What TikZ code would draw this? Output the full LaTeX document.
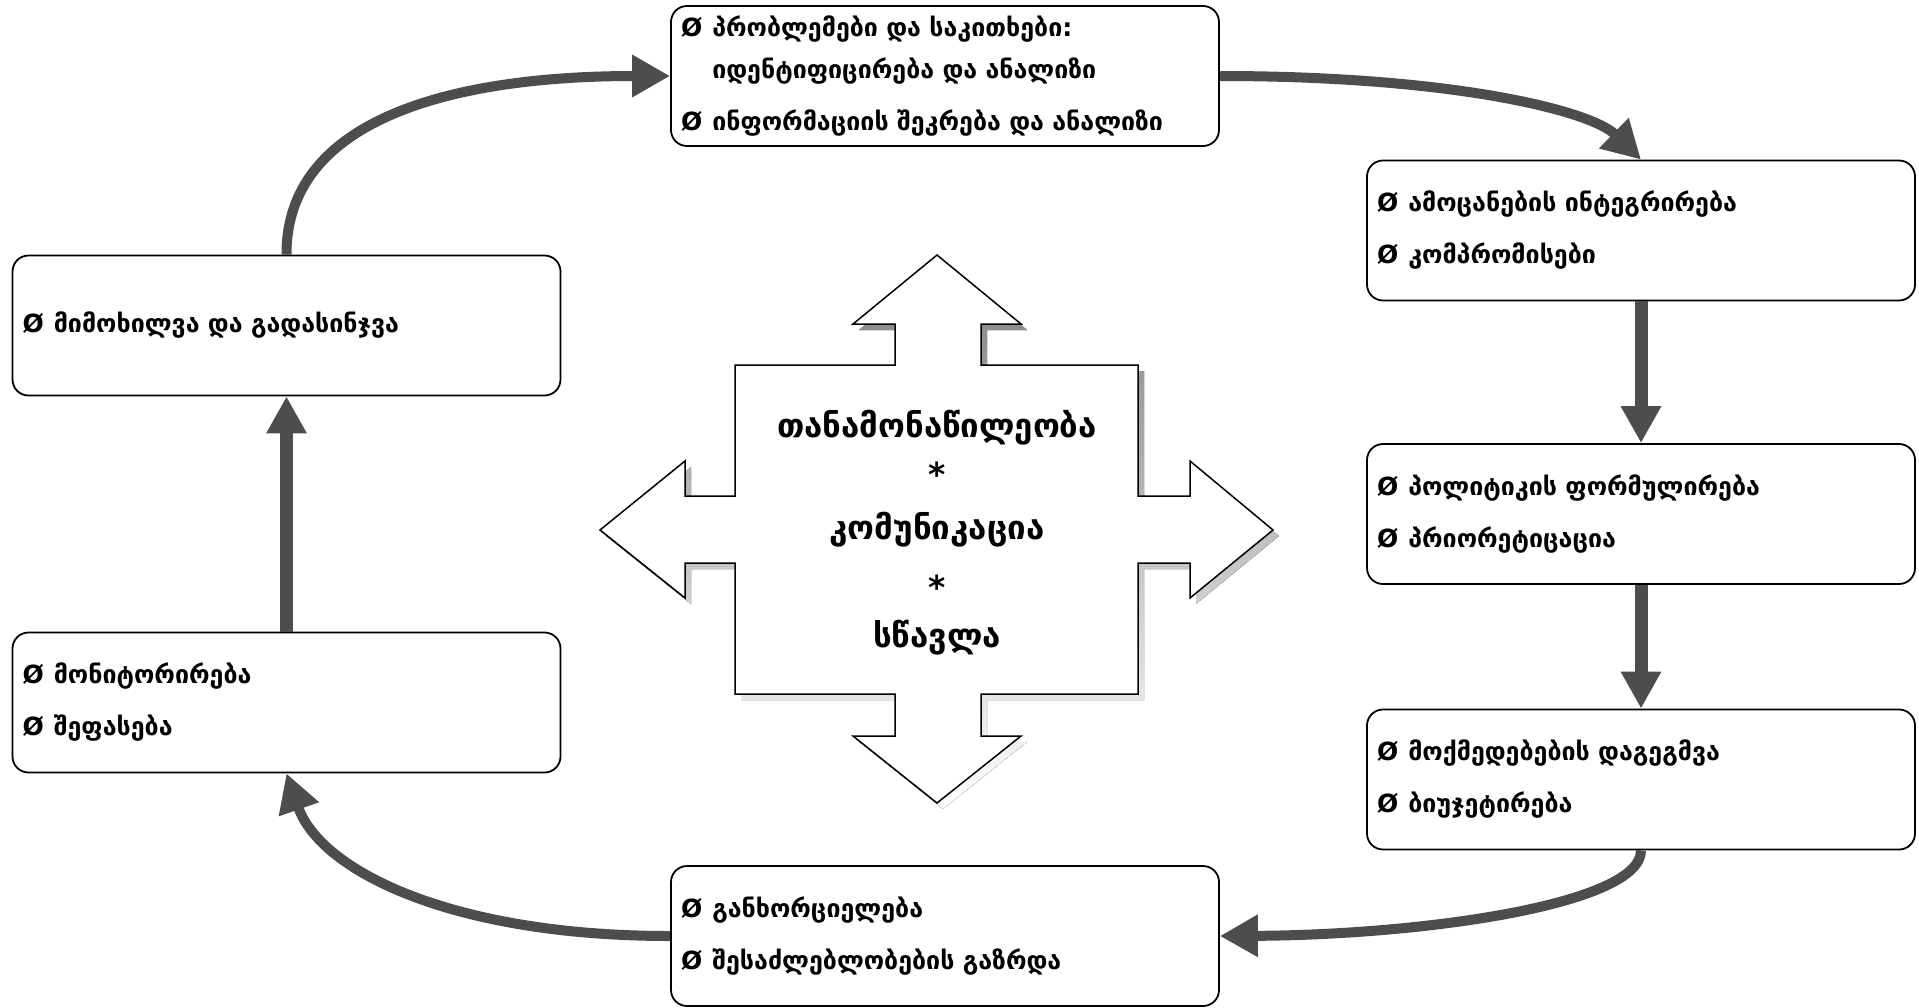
\documentclass[tikz,border=0pt]{standalone}
\usepackage{fontspec}
\setmainfont{DejaVu Sans}
\usetikzlibrary{arrows.meta,calc}
\definecolor{conn}{HTML}{4D4D4D}
\definecolor{shade}{HTML}{404040}
\newcommand\geotext{\fontsize{25}{52}\selectfont\bfseries}
\newcommand\coretext{\fontsize{33}{40}\selectfont\bfseries}
\newcommand\bul{Ø\hspace{10pt}}
\begin{document}
\begin{tikzpicture}[x=1pt,y=-1pt,
  stagebox/.style={draw=black, line width=1.8pt, rounded corners=16pt, fill=white,
    minimum width=548pt, minimum height=140pt, text width=528pt, inner xsep=10pt,
    inner ysep=0pt, align=left, font=\geotext},
  flow/.style={draw=conn, line width=10pt, -{Triangle[length=38pt,width=40pt]}},
  vflow/.style={draw=conn, line width=13pt, -{Triangle[length=37pt,width=38pt]}},
  coreline/.style={font=\coretext, inner sep=0pt}
]
\useasboundingbox[fill=white] (0,0) rectangle (1919,1007);

% central four-way arrow: shadow then shape
\begin{scope}[shift={(6,6)}]
\fill[shade] (937,255) -- (1021,324) -- (981,324) -- (981,365) -- (1138,365) -- (1138,496)
 -- (1190,496) -- (1190,461) -- (1273,530) -- (1190,598) -- (1190,563) -- (1138,563)
 -- (1138,694) -- (981,694) -- (981,736) -- (1021,736) -- (937,803) -- (853,736)
 -- (895,736) -- (895,694) -- (735,694) -- (735,563) -- (685,563) -- (685,598)
 -- (600,530) -- (685,461) -- (685,496) -- (735,496) -- (735,365) -- (895,365)
 -- (895,324) -- (853,324) -- cycle;
\end{scope}
\filldraw[fill=white, draw=black, line width=1.5pt, line join=miter]
    (937,255) -- (1021,324) -- (981,324) -- (981,365) -- (1138,365) -- (1138,496)
 -- (1190,496) -- (1190,461) -- (1273,530) -- (1190,598) -- (1190,563) -- (1138,563)
 -- (1138,694) -- (981,694) -- (981,736) -- (1021,736) -- (937,803) -- (853,736)
 -- (895,736) -- (895,694) -- (735,694) -- (735,563) -- (685,563) -- (685,598)
 -- (600,530) -- (685,461) -- (685,496) -- (735,496) -- (735,365) -- (895,365)
 -- (895,324) -- (853,324) -- cycle;

\node[coreline] (c1) at (937,428) {თანამონაწილეობა};
\node[coreline] (c2) at (937,474) {*};
\node[coreline] (c3) at (937,530) {კომუნიკაცია};
\node[coreline] (c4) at (937,587) {*};
\node[coreline] (c5) at (937,638) {სწავლა};

% stage boxes
\node[stagebox] (top) at (945,76) {\bul პრობლემები და საკითხები:\\[-10pt]
\phantom{\bul}იდენტიფიცირება და ანალიზი\\
\bul ინფორმაციის შეკრება და ანალიზი};
\node[stagebox] (r1) at (1641,230.5) {\bul ამოცანების ინტეგრირება\\ \bul კომპრომისები};
\node[stagebox] (r2) at (1641,514) {\bul პოლიტიკის ფორმულირება\\ \bul პრიორეტიცაცია};
\node[stagebox] (r3) at (1641,779.5) {\bul მოქმედებების დაგეგმვა\\ \bul ბიუჯეტირება};
\node[stagebox] (bot) at (945,936) {\bul განხორციელება\\ \bul შესაძლებლობების გაზრდა};
\node[stagebox] (lb) at (286.5,702.5) {\bul მონიტორირება\\ \bul შეფასება};
\node[stagebox] (lt) at (286.5,325.5) {\bul მიმოხილვა და გადასინჯვა};

% connectors
\draw[flow] (top.east) .. controls (1450,76) and (1590,110) .. (r1.north);
\draw[vflow] (r1.south) -- (r2.north);
\draw[vflow] (r2.south) -- (r3.north);
\draw[flow] (r3.south) .. controls (1641,905) and (1420,935) .. (bot.east);
\draw[flow] (bot.west) .. controls (450,936) and (320,870) .. (lb.south);
\draw[vflow] (lb.north) -- (lt.south);
\draw[flow] (lt.north) .. controls (286,120) and (450,76) .. (top.west);
\end{tikzpicture}
\end{document}
